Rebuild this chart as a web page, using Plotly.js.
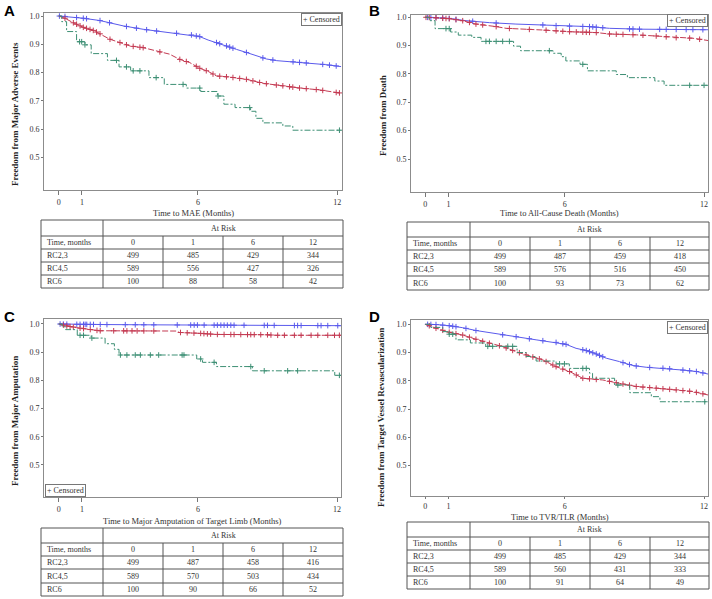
<!DOCTYPE html>
<html>
<head>
<meta charset="utf-8">
<script src="https://cdn.plot.ly/plotly-3.0.1.min.js"></script>
<style>html,body{margin:0;padding:0;background:#fff;}#chart{width:712px;height:599px;}</style>
</head>
<body>
<div id="chart"></div>
<script>
// ---------- DATA ----------
const groupNames = ['RC2,3', 'RC4,5', 'RC6'];
const xTickVals = [0, 1, 6, 12];
const yTickVals = [0.5, 0.6, 0.7, 0.8, 0.9, 1.0];
const tableTimes = ['0', '1', '6', '12'];

// Panel A: Major Adverse Events
const maeT23 = [0,0.5,1.06,1.77,2.78,3.64,4.2,5.08,5.72,6.08,6.44,6.8,7.23,7.66,8.09,8.5,8.95,9.4,10.1,10.8,11.5,12.17];
const maeS23 = [1.0,0.997,0.992,0.984,0.965,0.953,0.947,0.939,0.933,0.927,0.915,0.906,0.894,0.882,0.871,0.859,0.848,0.842,0.838,0.833,0.828,0.821];
const maeT45 = [0,0.27,0.63,1.06,1.49,1.78,2.2,2.64,3.07,3.64,4.2,4.78,5.2,5.65,6.08,6.44,6.8,7.37,8.09,8.8,9.66,10.4,11.2,12.17];
const maeS45 = [1.0,0.992,0.976,0.96,0.949,0.937,0.918,0.906,0.894,0.888,0.876,0.865,0.847,0.835,0.815,0.804,0.788,0.784,0.776,0.762,0.753,0.745,0.739,0.727];
const maeT6 = [0,0.13,0.34,0.77,1.13,1.4,2.1,2.6,3.1,3.89,4.55,5.5,6.12,6.84,7.12,7.6,8.27,8.5,8.8,9.66,10.09,12.17];
const maeS6 = [1.0,0.98,0.945,0.909,0.898,0.867,0.843,0.82,0.806,0.782,0.758,0.745,0.733,0.717,0.688,0.676,0.663,0.638,0.622,0.611,0.596,0.596];
const maeC23 = [0.03,0.27,0.77,1.06,1.2,1.78,2.19,2.92,3.35,3.79,4.22,5.08,5.72,5.93,6.08,6.8,6.94,7.23,7.37,7.51,8.09,8.8,9.23,10.1,10.38,10.67,11.38,11.67,11.96];
const maeC45 = [0.27,0.63,0.77,0.92,1.06,1.2,1.35,1.49,1.63,1.78,2.21,2.64,2.92,3.21,3.5,3.64,4.36,5.22,5.5,5.93,6.08,6.36,6.65,6.94,7.23,7.51,7.8,8.09,8.37,8.66,8.95,9.38,9.66,9.95,10.09,10.38,10.67,11.1,11.38,11.96,12.1];
const maeC6 = [0.9,0.99,1.13,2.49,2.92,3.21,3.5,4.2,5.36,6.08,6.87,8.23,12.1];
const maeRisk23 = [499, 485, 429, 344];
const maeRisk45 = [589, 556, 427, 326];
const maeRisk6 = [100, 88, 58, 42];

// Panel B: All-cause death
const deathT23 = [0,0.5,1.03,1.75,2.76,3.9,5.06,5.92,7.07,7.93,9.22,12.17];
const deathS23 = [1.0,0.999,0.996,0.988,0.981,0.976,0.973,0.969,0.967,0.961,0.958,0.956];
const deathT45 = [0,0.5,1.03,1.6,2.18,3.05,3.48,5.06,6.21,7.36,7.93,9.08,9.94,10.8,11.52,12.17];
const deathS45 = [1.0,0.998,0.995,0.988,0.976,0.967,0.961,0.955,0.949,0.946,0.941,0.938,0.934,0.928,0.926,0.918];
const deathT6 = [0,0.17,0.42,1.09,1.42,2.0,2.4,3.8,4.1,5.5,5.85,6.05,6.66,6.98,8.22,8.7,9.88,10.28,12.17];
const deathS6 = [1.0,0.988,0.96,0.948,0.937,0.929,0.915,0.898,0.882,0.873,0.861,0.846,0.834,0.811,0.798,0.787,0.775,0.76,0.76];
const deathC23 = [0.1,0.24,0.46,0.75,1.03,1.32,2.04,3.05,5.06,5.63,6.21,6.78,7.07,7.21,7.36,7.64,8.79,8.94,9.22,10.09,10.37,10.8,11.23,11.52,11.95];
const deathC45 = [0.03,0.17,0.46,0.75,0.89,1.03,1.32,1.61,1.9,2.18,2.47,3.05,3.62,4.48,5.2,5.63,5.92,6.21,6.5,6.78,6.93,7.07,7.36,7.93,8.22,8.51,8.94,9.37,9.94,10.37,10.8,11.38,11.81];
const deathC6 = [0.89,1.03,2.61,2.76,3.05,3.33,3.62,5.34,6.78,11.38,12.0];
const deathRisk23 = [499, 487, 459, 418];
const deathRisk45 = [589, 576, 516, 450];
const deathRisk6 = [100, 93, 73, 62];

// Panel C: Major amputation of target limb
const ampT23 = [0,0.5,2.0,4.0,6.5,9.0,12.17];
const ampS23 = [1.0,0.999,0.998,0.997,0.996,0.995,0.994];
const ampT45 = [0,0.35,0.77,1.2,1.77,5.07,5.2,6.06,6.78,8.93,9.36,12.17];
const ampS45 = [1.0,0.993,0.987,0.982,0.976,0.975,0.970,0.967,0.963,0.962,0.960,0.960];
const ampT6 = [0,0.15,0.3,0.8,1.4,2.0,2.4,2.6,5.95,6.2,6.8,8.35,11.9,12.17];
const ampS6 = [1.0,0.99,0.98,0.96,0.95,0.93,0.91,0.89,0.876,0.864,0.849,0.834,0.818,0.818];
const ampC23 = [0.06,0.2,0.35,0.78,0.92,1.07,1.14,1.21,1.36,1.5,1.79,2.08,2.87,3.3,3.67,4.1,5.11,5.69,5.84,5.98,6.27,6.7,6.84,6.99,7.13,7.27,7.42,7.56,7.99,8.86,9.0,9.29,10.16,10.3,10.45,11.17,11.31,11.6,12.03];
const ampC45 = [0.2,0.35,0.49,0.63,0.92,1.07,1.36,1.65,1.79,2.37,2.8,2.94,3.16,3.38,3.67,4.1,5.25,5.54,5.83,6.12,6.26,6.41,6.55,6.84,7.13,7.42,7.56,7.85,8.14,8.28,8.43,8.71,9.0,9.15,9.44,9.73,10.16,10.45,10.88,11.17,11.6,11.89,12.1];
const ampC6 = [0.92,1.07,1.43,2.66,2.94,3.3,3.52,3.95,4.31,5.32,5.4,6.12,6.7,8.28,8.86,9.87,10.3,12.1];
const ampRisk23 = [499, 487, 458, 416];
const ampRisk45 = [589, 570, 503, 434];
const ampRisk6 = [100, 90, 66, 52];

// Panel D: TVR/TLR
const tvrT23 = [0,0.5,1.03,1.61,2.18,3.05,3.91,4.77,5.63,6.06,6.49,6.93,7.36,7.79,8.36,8.94,9.51,10.37,11.09,11.67,12.17];
const tvrS23 = [1.0,0.999,0.995,0.988,0.978,0.966,0.956,0.945,0.936,0.929,0.915,0.907,0.895,0.88,0.868,0.854,0.848,0.844,0.838,0.833,0.824];
const tvrT45 = [0,0.46,1.03,1.61,2.18,2.76,3.33,3.91,4.48,5.06,5.63,6.21,6.78,7.64,8.36,9.08,9.94,10.8,11.52,12.17];
const tvrS45 = [1.0,0.986,0.972,0.962,0.947,0.933,0.921,0.903,0.888,0.874,0.85,0.833,0.809,0.803,0.791,0.78,0.774,0.768,0.762,0.75];
const tvrT6 = [0,0.24,0.75,1.03,1.32,1.94,2.6,3.95,4.34,4.77,5.63,6.2,7.07,7.2,8.15,8.8,9.73,10.1,12.17];
const tvrS6 = [1.0,0.989,0.974,0.965,0.945,0.934,0.922,0.9,0.886,0.87,0.86,0.844,0.827,0.809,0.785,0.758,0.744,0.726,0.726];
const tvrC23 = [0.1,0.24,0.46,0.75,1.03,1.18,1.32,1.75,2.18,3.33,3.91,4.48,5.06,5.63,5.92,6.06,6.78,6.93,7.07,7.21,7.36,7.5,7.64,8.51,8.79,9.08,9.66,10.23,10.52,11.09,11.38,11.67,11.95];
const tvrC45 = [0.17,0.46,0.75,1.03,1.32,1.61,1.9,2.18,2.47,2.76,3.19,3.48,3.76,4.05,4.34,4.63,4.91,5.2,5.49,5.63,5.92,6.21,6.5,6.78,7.07,7.36,7.93,8.22,8.51,8.79,9.08,9.37,9.66,9.94,10.23,10.52,10.8,11.09,11.38,11.67,11.95];
const tvrC6 = [1.03,1.18,2.69,2.9,3.55,3.76,5.78,5.99,6.78,6.93,8.29,12.03];
const tvrRisk23 = [499, 485, 429, 344];
const tvrRisk45 = [589, 560, 431, 333];
const tvrRisk6 = [100, 91, 64, 49];

// ---------- LAYOUT / STYLE ----------
const W = 712, H = 599;
const px = x => x / W;
const py = y => 1 - y / H;
const SERIF = 'Liberation Serif, Times New Roman, serif';
const colors = ['#5a5aec', '#c43a52', '#3d8f74'];
const dashes = ['solid', '6px,2px', '6px,2px,2px,2px'];
const shapesLine = ['linear', 'linear', 'hv'];

function valueAt(T, S, t, shape) {
  if (t <= T[0]) return S[0];
  for (let i = 1; i < T.length; i++) {
    if (t < T[i]) {
      if (shape === 'hv') return S[i - 1];
      const f = (t - T[i - 1]) / (T[i] - T[i - 1]);
      return S[i - 1] + f * (S[i] - S[i - 1]);
    }
  }
  return S[S.length - 1];
}

const panels = [
  { letter: 'A', box: [44, 13, 342, 190], xr: [-0.634, 12.21], yr: [0.3845, 1.0106],
    series: [[maeT23, maeS23, maeC23], [maeT45, maeS45, maeC45], [maeT6, maeS6, maeC6]],
    risk: [maeRisk23, maeRisk45, maeRisk6],
    ytitle: 'Freedom from Major Adverse Events', ytPos: [15, 114],
    xtitle: 'Time to MAE (Months)', xtY: 213, tl: 4,
    legend: [321, 19.5], letterPos: [2, 10],
    cols: [41, 103, 163, 223, 283, 343], rows: [220, 236, 249, 262, 275, 288] },
  { letter: 'B', box: [411, 15, 708, 192], xr: [-0.616, 12.17], yr: [0.3836, 1.008],
    series: [[deathT23, deathS23, deathC23], [deathT45, deathS45, deathC45], [deathT6, deathS6, deathC6]],
    risk: [deathRisk23, deathRisk45, deathRisk6],
    ytitle: 'Freedom from Death', ytPos: [383, 115],
    xtitle: 'Time to All-Cause Death (Months)', xtY: 213, tl: 4,
    legend: [687, 20.5], letterPos: [367, 10],
    cols: [407, 470, 530, 590, 650, 709], rows: [222, 237, 250, 263, 276, 290] },
  { letter: 'C', box: [44, 319, 341, 497], xr: [-0.634, 12.17], yr: [0.3865, 1.0177],
    series: [[ampT23, ampS23, ampC23], [ampT45, ampS45, ampC45], [ampT6, ampS6, ampC6]],
    risk: [ampRisk23, ampRisk45, ampRisk6],
    ytitle: 'Freedom from Major Amputation', ytPos: [15, 421],
    xtitle: 'Time to Major Amputation of Target Limb (Months)', xtY: 520.5, tl: 4,
    legend: [65, 490.3], letterPos: [2, 316],
    cols: [41, 103, 163, 223, 283, 343], rows: [528, 543, 556, 569, 583, 596] },
  { letter: 'D', box: [411, 320, 708, 496], xr: [-0.616, 12.17], yr: [0.3925, 1.0152],
    series: [[tvrT23, tvrS23, tvrC23], [tvrT45, tvrS45, tvrC45], [tvrT6, tvrS6, tvrC6]],
    risk: [tvrRisk23, tvrRisk45, tvrRisk6],
    ytitle: 'Freedom from Target Vessel Revascularization', ytPos: [381, 418],
    xtitle: 'Time to TVR/TLR (Months)', xtY: 516.5, tl: 2,
    legend: [687, 327.5], letterPos: [367, 316],
    cols: [407, 470, 530, 590, 650, 709], rows: [522, 537, 550, 563, 576, 589] }
];

const data = [];
const layout = {
  width: W, height: H,
  margin: { l: 0, r: 0, t: 0, b: 0 },
  paper_bgcolor: '#fff', plot_bgcolor: '#fff',
  showlegend: false,
  font: { family: SERIF, size: 8, color: '#333' },
  shapes: [], annotations: []
};

panels.forEach((p, k) => {
  const n = k + 1;
  const xa = 'x' + (n === 1 ? '' : n), ya = 'y' + (n === 1 ? '' : n);
  const xk = 'xaxis' + (n === 1 ? '' : n), yk = 'yaxis' + (n === 1 ? '' : n);
  const [l, t, r, b] = p.box;
  layout[xk] = {
    domain: [px(l), px(r)], range: p.xr, anchor: ya,
    tickvals: xTickVals, ticks: 'outside', ticklen: p.tl, tickcolor: '#777', tickwidth: 1,
    showline: true, mirror: true, linecolor: '#8c8c8c', linewidth: 1,
    showgrid: false, zeroline: false,
    tickfont: { family: SERIF, size: 8, color: '#333' }
  };
  layout[yk] = {
    domain: [py(b), py(t)], range: p.yr, anchor: xa,
    tickvals: yTickVals, tickformat: '.1f', ticks: 'outside', ticklen: 2, tickcolor: '#777',
    showline: true, mirror: true, linecolor: '#8c8c8c', linewidth: 1,
    showgrid: false, zeroline: false,
    tickfont: { family: SERIF, size: 8, color: '#333' }
  };
  p.series.forEach((s, g) => {
    const [T, S, C] = s;
    data.push({
      type: 'scatter', mode: 'lines', x: T, y: S, xaxis: xa, yaxis: ya,
      line: { color: colors[g], width: 1, dash: dashes[g], shape: shapesLine[g] },
      name: groupNames[g], hoverinfo: 'skip'
    });
    data.push({
      type: 'scatter', mode: 'markers', x: C, y: C.map(c => valueAt(T, S, c, shapesLine[g])),
      xaxis: xa, yaxis: ya,
      marker: { symbol: 'cross-thin', size: 4, line: { color: colors[g], width: 1 }, color: colors[g] },
      hoverinfo: 'skip'
    });
  });
  // panel letter
  layout.annotations.push({
    xref: 'paper', yref: 'paper', x: px(p.letterPos[0]), y: py(p.letterPos[1]),
    xanchor: 'left', yanchor: 'middle', showarrow: false,
    text: '<b>' + p.letter + '</b>',
    font: { family: 'Liberation Sans, Arial, sans-serif', size: 15, color: '#000' }
  });
  // y title
  layout.annotations.push({
    xref: 'paper', yref: 'paper', x: px(p.ytPos[0]), y: py(p.ytPos[1]),
    xanchor: 'center', yanchor: 'middle', showarrow: false, textangle: -90,
    text: '<b>' + p.ytitle + '</b>',
    font: { family: SERIF, size: 9, color: '#222' }
  });
  // x title
  layout.annotations.push({
    xref: 'paper', yref: 'paper', x: px((l + r) / 2), y: py(p.xtY),
    xanchor: 'center', yanchor: 'middle', showarrow: false,
    text: p.xtitle, font: { family: SERIF, size: 8.5, color: '#333' }
  });
  // censored legend
  layout.annotations.push({
    xref: 'paper', yref: 'paper', x: px(p.legend[0]), y: py(p.legend[1]),
    xanchor: 'center', yanchor: 'middle', showarrow: false,
    text: '+ Censored', font: { family: SERIF, size: 8, color: '#333' },
    bordercolor: '#777', borderwidth: 1, borderpad: 1, bgcolor: '#fff'
  });
  // at-risk table
  const c = p.cols, rw = p.rows;
  const lineStyle = { color: '#555', width: 1 };
  rw.forEach(yv => layout.shapes.push({ type: 'line', xref: 'paper', yref: 'paper',
    x0: px(c[0]), x1: px(c[5]), y0: py(yv), y1: py(yv), line: lineStyle }));
  [c[0], c[1], c[5]].forEach(xv => layout.shapes.push({ type: 'line', xref: 'paper', yref: 'paper',
    x0: px(xv), x1: px(xv), y0: py(rw[0]), y1: py(rw[5]), line: lineStyle }));
  [c[2], c[3], c[4]].forEach(xv => layout.shapes.push({ type: 'line', xref: 'paper', yref: 'paper',
    x0: px(xv), x1: px(xv), y0: py(rw[1]), y1: py(rw[5]), line: lineStyle }));
  const cellFont = { family: SERIF, size: 8, color: '#333' };
  layout.annotations.push({ xref: 'paper', yref: 'paper', x: px((c[1] + c[5]) / 2), y: py((rw[0] + rw[1]) / 2),
    xanchor: 'center', yanchor: 'middle', showarrow: false, text: 'At Risk', font: cellFont });
  const rowLabels = ['Time, months'].concat(groupNames);
  const rowVals = [tableTimes].concat(p.risk);
  rowLabels.forEach((lab, ri) => {
    const yc = py((rw[ri + 1] + rw[ri + 2]) / 2);
    layout.annotations.push({ xref: 'paper', yref: 'paper', x: px(c[0] + 4), y: yc,
      xanchor: 'left', yanchor: 'middle', showarrow: false, text: lab, font: cellFont });
    rowVals[ri].forEach((v, ci) => {
      layout.annotations.push({ xref: 'paper', yref: 'paper', x: px((c[ci + 1] + c[ci + 2]) / 2), y: yc,
        xanchor: 'center', yanchor: 'middle', showarrow: false, text: String(v), font: cellFont });
    });
  });
});

Plotly.newPlot('chart', data, layout, { staticPlot: true, displayModeBar: false });
</script>
</body>
</html>
